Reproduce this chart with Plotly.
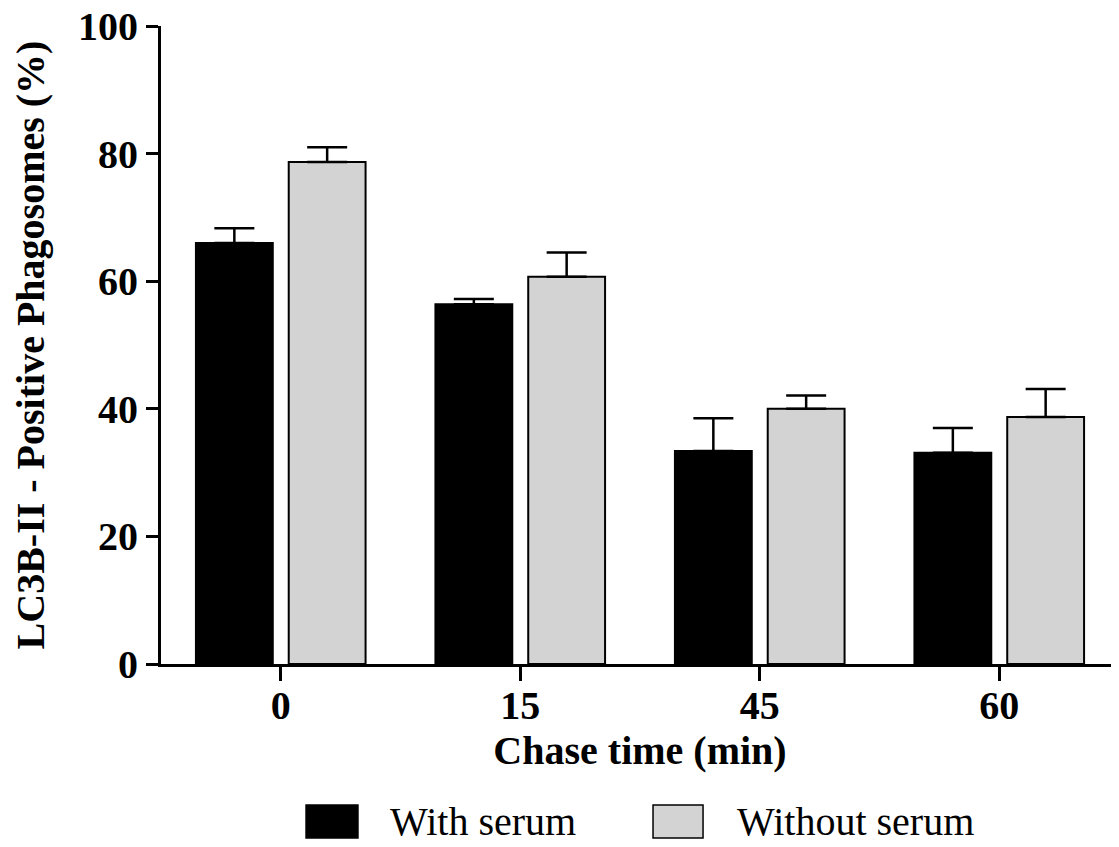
import plotly.graph_objects as go

categories = ["0", "15", "45", "60"]
series_names = ["With serum", "Without serum"]
with_serum = [66.0, 56.4, 33.4, 33.1]
with_serum_err = [2.3, 0.8, 5.1, 3.9]
without_serum = [78.7, 60.7, 40.0, 38.7]
without_serum_err = [2.3, 3.8, 2.1, 4.4]
y_ticks = [0, 20, 40, 60, 80, 100]

FONT = "Liberation Serif"
colors = ["#000000", "#d3d3d3"]

fig = go.Figure()
for name, vals, errs, col in [
    (series_names[0], with_serum, with_serum_err, colors[0]),
    (series_names[1], without_serum, without_serum_err, colors[1]),
]:
    fig.add_trace(go.Bar(
        x=categories, y=vals, name=name,
        marker=dict(color=col, line=dict(color="#000000", width=2)),
        error_y=dict(type="data", array=errs, arrayminus=[0] * len(errs),
                     symmetric=False, color="#000000", thickness=2.5, width=20),
        showlegend=False,
    ))

fig.update_layout(
    width=1111, height=839,
    margin=dict(l=153, r=0, t=18, b=183, autoexpand=False),
    paper_bgcolor="white", plot_bgcolor="white",
    barmode="group", bargap=0.225, bargroupgap=0.172,
    font=dict(family=FONT, color="black"),
    xaxis=dict(
        type="category", range=[-0.5, 3.5],
        showline=True, linecolor="black", linewidth=3,
        ticks="outside", ticklen=14, tickwidth=3, tickcolor="black",
        ticklabelstandoff=-10,
        tickfont=dict(family=FONT, size=40, weight="bold"),
        title=dict(text="Chase time (min)", standoff=7,
                   font=dict(family=FONT, size=40, weight="bold")),
        showgrid=False, zeroline=False, automargin=False,
    ),
    yaxis=dict(
        range=[0, 100], tickvals=y_ticks,
        showline=True, linecolor="black", linewidth=3,
        ticks="outside", ticklen=12, tickwidth=3, tickcolor="black",
        ticklabeloverflow="allow",
        tickfont=dict(family=FONT, size=40, weight="bold"),
        title=dict(text="LC3B-II - Positive Phagosomes (%)", standoff=30,
                   font=dict(family=FONT, size=40, weight="bold")),
        showgrid=False, zeroline=False, automargin=False,
    ),
)

# Legend drawn manually (large swatches as in reference)
legend_items = [
    (series_names[0], colors[0], 0.1514, 0.2056, 0.2370),
    (series_names[1], colors[1], 0.5136, 0.5658, 0.5992),
]
for name, col, x0, x1, tx in legend_items:
    fig.add_shape(type="rect", xref="paper", yref="paper",
                  x0=x0, x1=x1, y0=-0.2727, y1=-0.221,
                  fillcolor=col, line=dict(color="#000000", width=1.5))
    fig.add_annotation(text=name, xref="paper", yref="paper",
                       x=tx, y=-0.2476, xanchor="left", yanchor="middle",
                       showarrow=False,
                       font=dict(family=FONT, size=40, color="black"))

fig.write_html("out.html")
